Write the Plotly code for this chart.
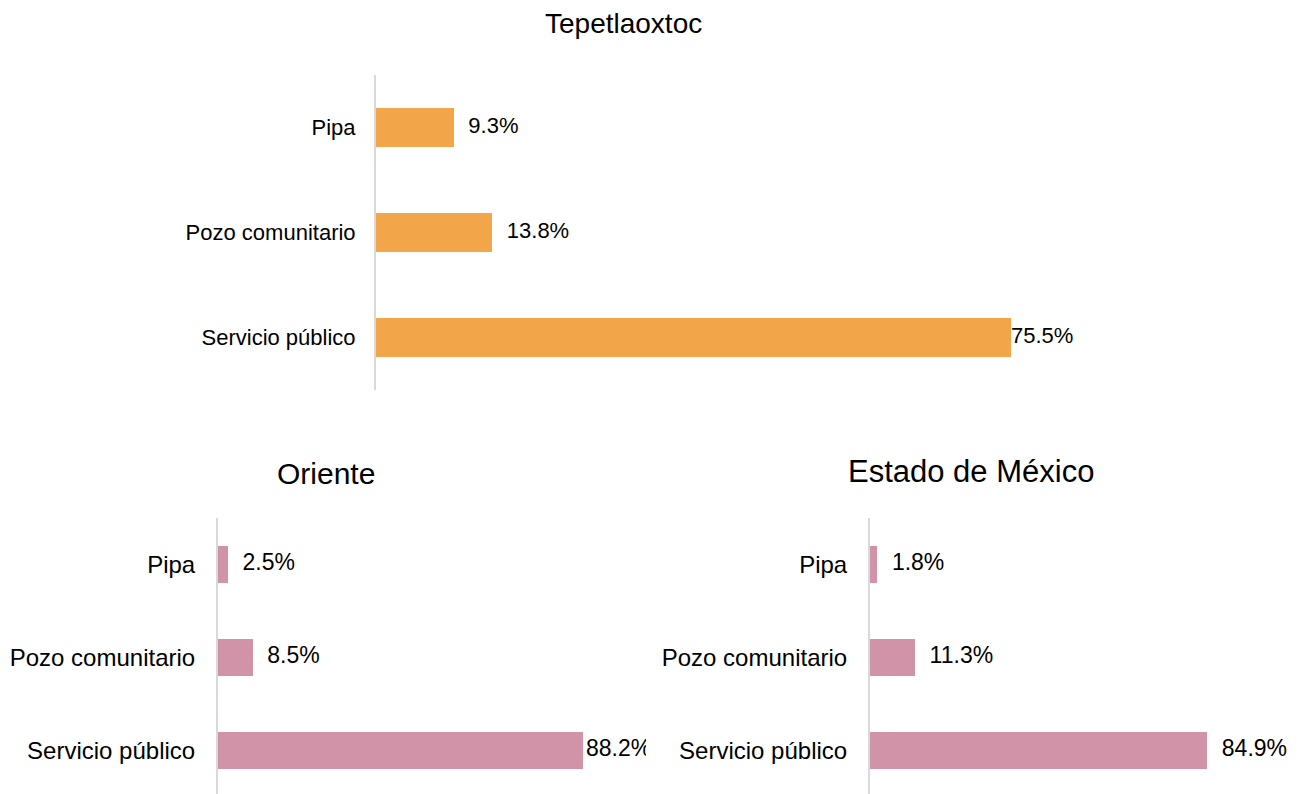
import plotly.graph_objects as go

# Fuente de abastecimiento de agua (% de viviendas)
categorias = ["Pipa", "Pozo comunitario", "Servicio público"]
tepetlaoxtoc = [9.3, 13.8, 75.5]
oriente = [2.5, 8.5, 88.2]
edomex = [1.8, 11.3, 84.9]

titulos = ["Tepetlaoxtoc", "Oriente", "Estado de México"]

NARANJA = "#F3A54A"
ROSA = "#D093A7"
EJE = "#D9D9D9"
FUENTE = "Liberation Sans, Arial, sans-serif"

W, H = 1301, 794


def px_x(a, b):
    return [a / W, b / W]


def px_y(top, bottom):
    return [max(0.0, (H - bottom) / H), min(1.0, (H - top) / H)]


fig = go.Figure()

paneles = [
    # (valores, color, eje x, eje y, marcador invisible que separa la etiqueta, tamaño de letra, grosor de barra)
    (tepetlaoxtoc, NARANJA, "x", "y", [21, 22, 0], 22, 0.38),
    (oriente, ROSA, "x2", "y2", [21, 21, 3], 23, 0.40),
    (edomex, ROSA, "x3", "y3", [22, 22, 22], 23, 0.40),
]

for valores, color, xa, ya, sep, fsize, ancho in paneles:
    fig.add_trace(go.Bar(
        x=valores, y=categorias, orientation="h",
        marker=dict(color=color, line=dict(width=0)),
        width=ancho, xaxis=xa, yaxis=ya, hoverinfo="skip",
    ))
    fig.add_trace(go.Scatter(
        x=valores, y=categorias, mode="markers+text",
        text=[f"{v:.1f}%" for v in valores],
        textposition="middle right",
        textfont=dict(family=FUENTE, size=fsize, color="#000000"),
        marker=dict(size=sep, opacity=0),
        cliponaxis=True, xaxis=xa, yaxis=ya, hoverinfo="skip",
    ))

ejex = dict(visible=False, showgrid=False, zeroline=False, fixedrange=True)
ejey = dict(
    type="category", showgrid=False, zeroline=False, showline=True,
    linecolor=EJE, linewidth=2, ticks="",
    categoryorder="array", categoryarray=categorias,
)

fig.update_layout(
    width=W, height=H,
    margin=dict(l=0, r=0, t=0, b=0),
    paper_bgcolor="white", plot_bgcolor="white",
    showlegend=False, bargap=0,
    xaxis=dict(**ejex, anchor="y", domain=px_x(376, 1100), range=[0, (1100 - 376) / 8.41]),
    yaxis=dict(**ejey, anchor="x", domain=px_y(74.8, 389.8), range=[2.5, -0.5],
               ticklabelstandoff=14,
               tickfont=dict(family=FUENTE, size=22, color="#000000")),
    xaxis2=dict(**ejex, anchor="y2", domain=px_x(218, 646), range=[0, (646 - 218) / 4.14]),
    yaxis2=dict(**ejey, anchor="x2", domain=px_y(518, 794), range=[2.5 - 3 / 93, -0.5],
                ticklabelstandoff=16,
                tickfont=dict(family=FUENTE, size=24, color="#000000")),
    xaxis3=dict(**ejex, anchor="y3", domain=px_x(870, 1301), range=[0, (1301 - 870) / 3.97]),
    yaxis3=dict(**ejey, anchor="x3", domain=px_y(518, 794), range=[2.5 - 3 / 93, -0.5],
                ticklabelstandoff=16,
                tickfont=dict(family=FUENTE, size=24, color="#000000")),
)

posiciones_titulo = [(623, 24, 28), (326, 473, 30), (971, 472, 31)]
for texto, (cx, cy, fs) in zip(titulos, posiciones_titulo):
    fig.add_annotation(
        text=texto, x=cx / W, y=1 - cy / H, xref="paper", yref="paper",
        xanchor="center", yanchor="middle", showarrow=False,
        font=dict(family=FUENTE, size=fs, color="#000000"),
    )

fig.write_html("out.html")
